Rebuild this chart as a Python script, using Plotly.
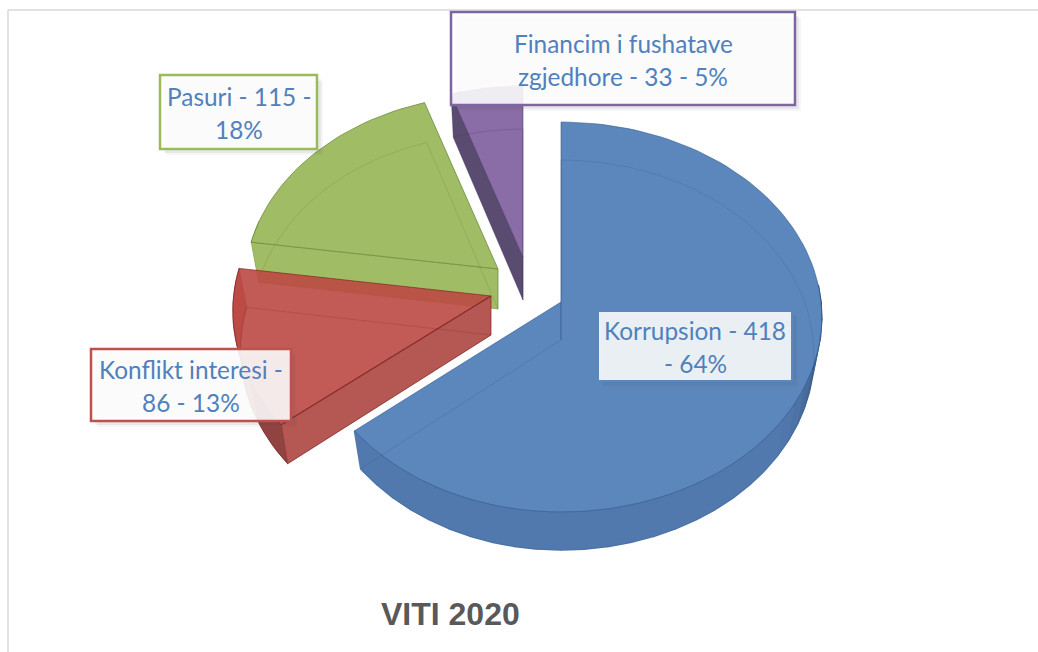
import math
import plotly.graph_objects as go

# ---- data ----
categories = ["Korrupsion", "Konflikt interesi", "Pasuri", "Financim i fushatave zgjedhore"]
values = [418, 86, 115, 33]
percent_labels = ["64%", "13%", "18%", "5%"]
label_lines = [
    ["Korrupsion - 418", "- 64%"],
    ["Konflikt interesi -", "86 - 13%"],
    ["Pasuri - 115 -", "18%"],
    ["Financim i fushatave", "zgjedhore - 33 - 5%"],
]
title_text = "VITI 2020"

# ---- styling / projection ----
TOP_COL = ["#5b87bd", "rgba(187,73,68,0.9)", "#a0bc64", "#8a6da6"]
WALL_COL = ["#5279ae", "#bd5a56", "#a0bc64", "#8a6da6"]
SIDE_COL = [None, "#b55753", "#a0bc64", "#5a4b70"]
EDGE_COL = ["rgba(45,85,135,0.55)", "rgba(130,40,38,0.7)", "rgba(100,130,50,0.7)", "rgba(70,50,100,0.5)"]
FAINT_COL = ["rgba(45,85,135,0.28)", "rgba(130,40,38,0.3)", "rgba(100,130,50,0.3)", "rgba(70,50,100,0.3)"]
BORDER = ["#5b87bd", "#c0504d", "#9bbb59", "#8064a2"]
# top-face apex x, y ; depth of the bottom apex ; slice scale ; scale of the left half
APEX = [(561, 302, 38, 1.0, 0.975), (491, 296, 39, 1.0, 0.99), (498, 269, 40, 0.97, 1.0), (523, 257, 43, 0.95, 1.0)]
BOX = [(598, 311, 792, 381), (91, 349, 291, 421), (160, 75, 317, 149), (451, 12, 795, 105)]
R, A, K, BOTTOM_R = 260, 193.8, 0.077, 0.97
TEXT = "#4f81bd"


def pt(theta_deg, i, bottom=False):
    ax, ay, depth, s, left = APEX[i]
    t = math.radians(theta_deg)
    u, v = math.sin(t), math.cos(t)
    d = 1 + K * v
    x = ax + s * (left if u < 0 else 1) * (R * (BOTTOM_R if bottom else 1)) * u / d
    y = (ay + (depth if bottom else 0)) - s * A * v / d
    return x, y


def arc(a, b, i, bottom=False):
    n = max(2, int(abs(b - a) / 2))
    return [pt(a + (b - a) * k / n, i, bottom) for k in range(n + 1)]


def poly(points, fill=None, line=None, width=1, name=None):
    xs = [p[0] for p in points]
    ys = [p[1] for p in points]
    return go.Scatter(
        x=xs, y=ys, mode="lines", name=name or "",
        fill="toself" if fill else None, fillcolor=fill,
        line=dict(color=line or "rgba(0,0,0,0)", width=width),
        hoverinfo="text" if name else "skip", text=name, showlegend=False,
    )


def mix(c1, c2, f):
    a = [int(c1[i:i + 2], 16) for i in (1, 3, 5)]
    b = [int(c2[i:i + 2], 16) for i in (1, 3, 5)]
    return "#%02x%02x%02x" % tuple(round(a[j] + (b[j] - a[j]) * f) for j in range(3))


fig = go.Figure()
total = sum(values)
sweeps = []
acc = 0.0
for v in values:
    sweeps.append((acc, acc + 360 * v / total))
    acc += 360 * v / total

for i in [3, 2, 1, 0]:
    a, b = sweeps[i]
    ax, ay, depth = APEX[i][:3]
    # outer wall, front part only
    lo, hi = max(a, 85), min(b, 285)
    if hi > lo:
        if i == 0:
            step = 5
            th = lo
            while th < hi:
                nx = min(th + step, hi)
                f = max(0.0, min(1.0, (125 - th) / 35))
                col = mix(WALL_COL[0], "#2f4a6e", f ** 1.5)
                fig.add_trace(poly(arc(th, nx, i) + arc(nx, th, i, True), col, col, 1.6))
                th = nx
        elif i == 1:
            fig.add_trace(poly(arc(lo, hi, i) + arc(hi, lo, i, True), WALL_COL[i], EDGE_COL[i]))
            # darker shading near the front tip of the red wall
            fig.add_trace(poly(arc(lo, lo + 14, i) + arc(lo + 14, lo, i, True), "rgba(90,40,40,0.45)", None))
        else:
            fig.add_trace(poly(arc(lo, hi, i) + arc(hi, lo, i, True), WALL_COL[i], EDGE_COL[i]))
    # side face that looks to the viewer
    if i in (2, 3):
        q = [(ax, ay), pt(a, i), pt(a, i, True), (ax, ay + depth)]
        fig.add_trace(poly(q, SIDE_COL[i], FAINT_COL[i]))
    # top face
    top = [(ax, ay)] + arc(a, b, i) + [(ax, ay)]
    fig.add_trace(poly(top, TOP_COL[i], EDGE_COL[i], 1,
                       name=f"{categories[i]}: {values[i]} ({percent_labels[i]})"))
    if i == 1:
        q = [(ax, ay), pt(a, i), pt(a, i, True), (ax, ay + depth)]
        fig.add_trace(poly(q, SIDE_COL[i], EDGE_COL[i]))
        fig.add_trace(poly([(ax, ay), pt(a, i)], None, EDGE_COL[i], 1.2))
    # bottom face seen through the glass
    bot = [(ax, ay + depth)] + arc(a, b, i, True) + [(ax, ay + depth)]
    fig.add_trace(poly(bot, None, FAINT_COL[i], 0.8))
    # vertical edge at the slice centre
    fig.add_trace(poly([(ax, ay), (ax, ay + depth)], None, EDGE_COL[i], 1))

shapes = [
    dict(type="line", x0=8, x1=8, y0=10, y1=652, line=dict(color="#d9d9d9", width=1.5), layer="below"),
    dict(type="line", x0=8, x1=1038, y0=10, y1=10, line=dict(color="#d9d9d9", width=1.5), layer="below"),
]
annotations = []
for i, (x0, y0, x1, y1) in enumerate(BOX):
    for off, al in [(6, 0.05), (4, 0.08)]:
        shapes.append(dict(type="rect", x0=x0 + off, x1=x1 + off, y0=y0 + off, y1=y1 + off, layer="above",
                           fillcolor=f"rgba(80,80,80,{al})", line=dict(width=0)))
    shapes.append(dict(type="rect", x0=x0, x1=x1, y0=y0, y1=y1, layer="above",
                       fillcolor="rgba(253,253,253,0.89)",
                       line=dict(color=BORDER[i], width=2.5 if i else 2)))
    cy = (y0 + y1) / 2 + 1
    for line_text, dy in zip(label_lines[i], (-16.5, 16.5)):
        annotations.append(dict(x=(x0 + x1) / 2 + (0.5 if i == 2 else 0), y=cy + dy, xref="x", yref="y", text=line_text,
                                showarrow=False, align="center",
                                font=dict(family="Lato", size=24.4, color=TEXT)))
annotations.append(dict(x=450.5, y=614, xref="x", yref="y", text=f"<b>{title_text}</b>", showarrow=False,
                        font=dict(family="Liberation Sans", size=32, color="#595959")))

fig.update_layout(
    width=1038, height=652, margin=dict(l=0, r=0, t=0, b=0),
    paper_bgcolor="white", plot_bgcolor="white", showlegend=False,
    xaxis=dict(range=[0, 1038], visible=False, fixedrange=True),
    yaxis=dict(range=[652, 0], visible=False, fixedrange=True),
    shapes=shapes, annotations=annotations,
)
fig.write_html("out.html", config={"displayModeBar": False},
               post_script="document.body.style.margin='0';document.documentElement.style.overflow='hidden';")
